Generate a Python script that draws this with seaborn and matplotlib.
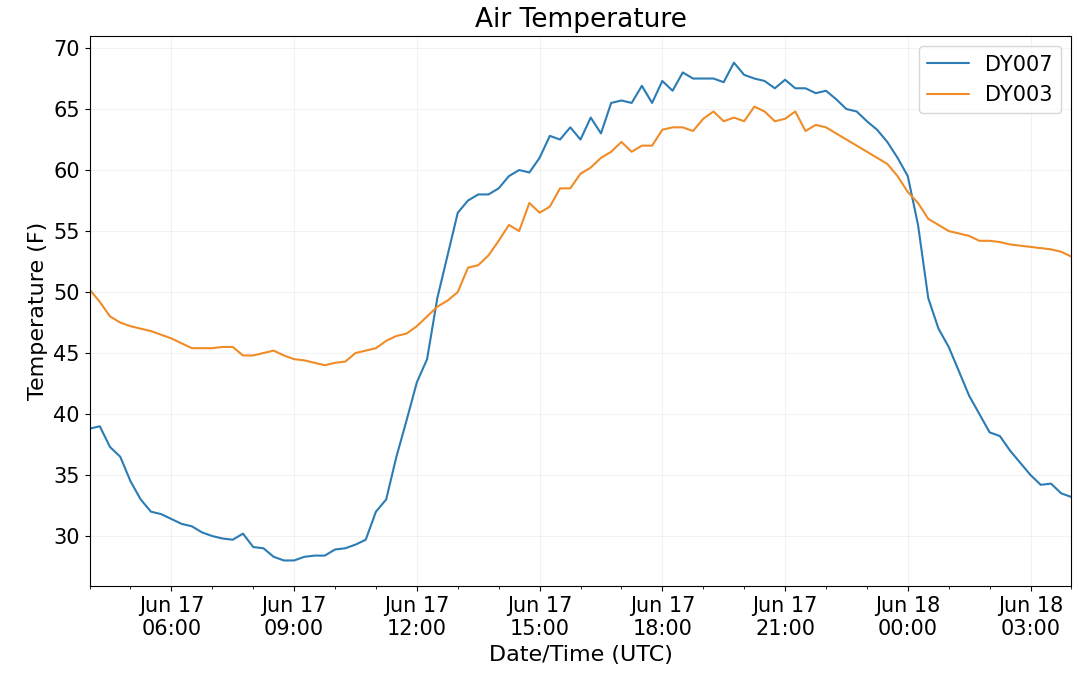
import matplotlib
matplotlib.use("Agg")
import matplotlib.pyplot as plt
import matplotlib.dates as mdates
import matplotlib.ticker as mticker
import pandas as pd
import seaborn as sns

start = "2019-06-17 04:00"
freq = "15min"

# DY007, 15-minute readings from Jun 17 04:00 to Jun 18 04:00
dy007 = [
    38.8, 39.0, 37.3, 36.5,   # 04
    34.5, 33.0, 32.0, 31.8,   # 05
    31.4, 31.0, 30.8, 30.3,   # 06
    30.0, 29.8, 29.7, 30.2,   # 07
    29.1, 29.0, 28.3, 28.0,   # 08
    28.0, 28.3, 28.4, 28.4,   # 09
    28.9, 29.0, 29.3, 29.7,   # 10
    32.0, 33.0, 36.5, 39.5,   # 11
    42.6, 44.5, 49.5, 53.0,   # 12
    56.5, 57.5, 58.0, 58.0,   # 13
    58.5, 59.5, 60.0, 59.8,   # 14
    61.0, 62.8, 62.5, 63.5,   # 15
    62.5, 64.3, 63.0, 65.5,   # 16
    65.7, 65.5, 66.9, 65.5,   # 17
    67.3, 66.5, 68.0, 67.5,   # 18
    67.5, 67.5, 67.2, 68.8,   # 19
    67.8, 67.5, 67.3, 66.7,   # 20
    67.4, 66.7, 66.7, 66.3,   # 21
    66.5, 65.8, 65.0, 64.8,   # 22
    64.0, 63.3, 62.3, 61.0,   # 23
    59.5, 55.5, 49.5, 47.0,   # 00
    45.5, 43.5, 41.5, 40.0,   # 01
    38.5, 38.2, 37.0, 36.0,   # 02
    35.0, 34.2, 34.3, 33.5,   # 03
    33.2,
]

dy003 = [
    50.2, 49.2, 48.0, 47.5,
    47.2, 47.0, 46.8, 46.5,
    46.2, 45.8, 45.4, 45.4,
    45.4, 45.5, 45.5, 44.8,
    44.8, 45.0, 45.2, 44.8,
    44.5, 44.4, 44.2, 44.0,
    44.2, 44.3, 45.0, 45.2,
    45.4, 46.0, 46.4, 46.6,
    47.2, 48.0, 48.8, 49.3,
    50.0, 52.0, 52.2, 53.0,
    54.2, 55.5, 55.0, 57.3,
    56.5, 57.0, 58.5, 58.5,
    59.7, 60.2, 61.0, 61.5,
    62.3, 61.5, 62.0, 62.0,
    63.3, 63.5, 63.5, 63.2,
    64.2, 64.8, 64.0, 64.3,
    64.0, 65.2, 64.8, 64.0,
    64.2, 64.8, 63.2, 63.7,
    63.5, 63.0, 62.5, 62.0,
    61.5, 61.0, 60.5, 59.5,
    58.2, 57.3, 56.0, 55.5,
    55.0, 54.8, 54.6, 54.2,
    54.2, 54.1, 53.9, 53.8,
    53.7, 53.6, 53.5, 53.3,
    52.9,
]

times = pd.date_range(start, periods=len(dy007), freq=freq)
df = pd.DataFrame({"time": times, "DY007": dy007, "DY003": dy003})
long = df.melt(id_vars="time", var_name="station", value_name="temp")

sns.set_style("ticks")
plt.rcParams["font.family"] = ["DejaVu Sans"]
plt.rcParams["text.color"] = "black"
plt.rcParams["axes.labelcolor"] = "black"
plt.rcParams["xtick.color"] = "black"
plt.rcParams["ytick.color"] = "black"
plt.rcParams["axes.edgecolor"] = "black"

fig, ax = plt.subplots(figsize=(10.79, 6.76), dpi=100)
sns.lineplot(data=long, x="time", y="temp", hue="station",
             palette=["#2b7bb4", "#f08c28"], ax=ax, linewidth=1.5)

ax.set_xlim(times[0], times[-1])
ax.set_ylim(25.9, 71)
ax.yaxis.set_major_locator(mticker.MultipleLocator(5))
ax.xaxis.set_major_locator(mdates.HourLocator(byhour=[0, 3, 6, 9, 12, 15, 18, 21]))
ax.xaxis.set_minor_locator(mdates.HourLocator())
ax.xaxis.set_major_formatter(mdates.DateFormatter("%b %d\n%H:%M"))
ax.grid(True, which="major", alpha=0.25)
ax.tick_params(labelsize=15)
ax.set_xlabel("Date/Time (UTC)", fontsize=16)
ax.set_ylabel("Temperature (F)", fontsize=16)
ax.set_title("Air Temperature", fontsize=19)
ax.legend(loc="upper right", fontsize=15)

fig.subplots_adjust(left=0.083, right=0.993, top=0.947, bottom=0.133)
fig.savefig("out.png")
